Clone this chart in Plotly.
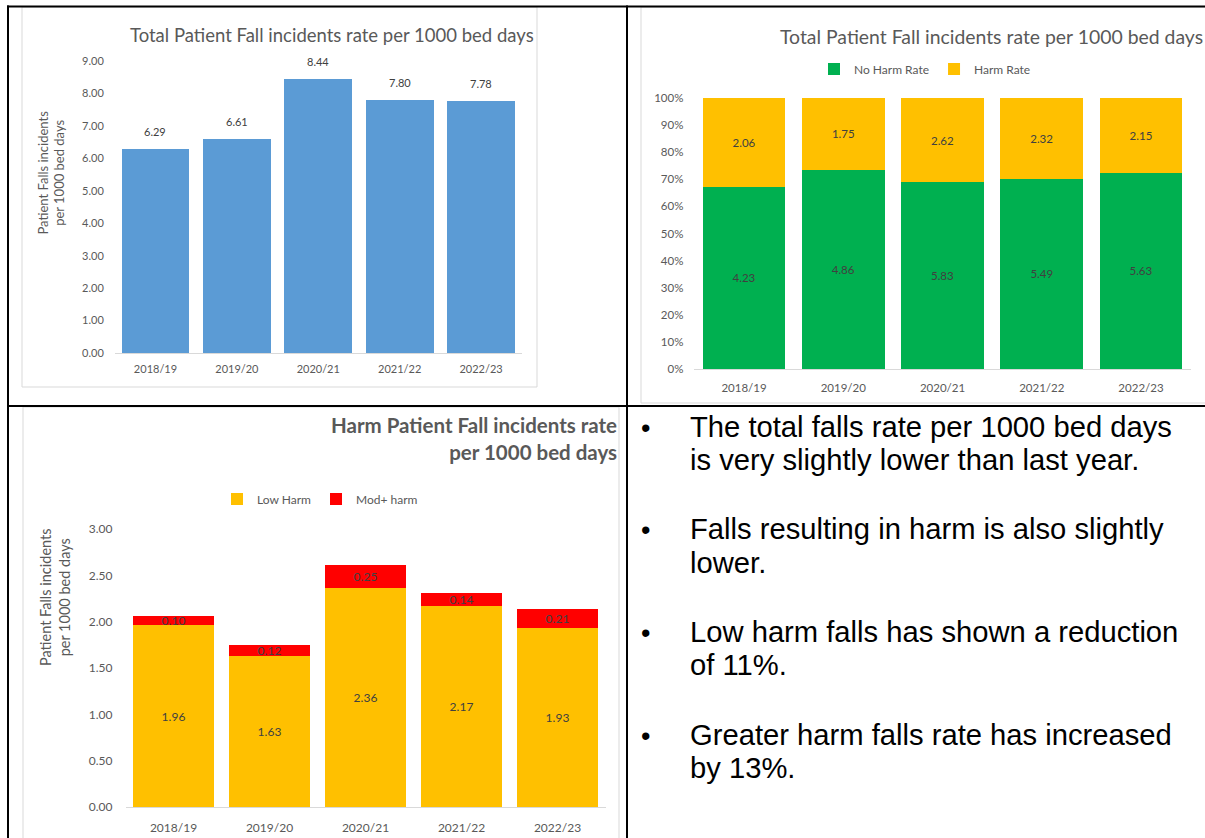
import plotly.graph_objects as go

W, H = 1205, 838


def px(x):
    return x / W


def py(y):
    return 1 - y / H


# ---------------- data ----------------
years = ["2018/19", "2019/20", "2020/21", "2021/22", "2022/23"]
total_rate = [6.29, 6.61, 8.44, 7.80, 7.78]
no_harm_rate = [4.23, 4.86, 5.83, 5.49, 5.63]
harm_rate = [2.06, 1.75, 2.62, 2.32, 2.15]
low_harm = [1.96, 1.63, 2.36, 2.17, 1.93]
mod_harm = [0.10, 0.12, 0.25, 0.14, 0.21]

total_ticks = [0, 1, 2, 3, 4, 5, 6, 7, 8, 9]
pct_ticks = [0, 10, 20, 30, 40, 50, 60, 70, 80, 90, 100]
harm_ticks = [0, 0.5, 1.0, 1.5, 2.0, 2.5, 3.0]

title_total = "Total Patient Fall incidents rate per 1000 bed days"
title_harm = "<b>Harm Patient Fall incidents rate<br>per 1000 bed days</b>"
y_title = "Patient Falls incidents<br>per 1000 bed days"

bullets = [
    ["The total falls rate per 1000 bed days", "is very slightly lower than last year."],
    ["Falls resulting in harm is also slightly", "lower."],
    ["Low harm falls has shown a reduction", "of 11%."],
    ["Greater harm falls rate has increased", "by 13%."],
]

# shares for the 100% stacked chart (built from the values above)
no_harm_share = [n / (n + h) * 100 for n, h in zip(no_harm_rate, harm_rate)]
harm_share = [h / (n + h) * 100 for n, h in zip(no_harm_rate, harm_rate)]

FONT = "Lato, 'Open Sans', sans-serif"
GREY = "#595959"
LBL = "#404040"

fig = go.Figure()

# chart 1
fig.add_trace(go.Bar(x=years, y=total_rate, marker=dict(color="#5B9BD5", line=dict(width=0)),
                     xaxis="x", yaxis="y", showlegend=False, hoverinfo="x+y"))

# chart 2
fig.add_trace(go.Bar(x=years, y=no_harm_share, name="No Harm Rate",
                     text=[f"{v:.2f}" for v in no_harm_rate], textposition="inside",
                     insidetextanchor="middle", textangle=0, constraintext="none",
                     textfont=dict(family=FONT, size=11.5, color=LBL),
                     marker=dict(color="#00B050", line=dict(width=0)),
                     xaxis="x2", yaxis="y2", legend="legend"))
fig.add_trace(go.Bar(x=years, y=harm_share, name="Harm Rate",
                     text=[f"{v:.2f}" for v in harm_rate], textposition="inside",
                     insidetextanchor="middle", textangle=0, constraintext="none",
                     textfont=dict(family=FONT, size=11.5, color=LBL),
                     marker=dict(color="#FFC000", line=dict(width=0)),
                     xaxis="x2", yaxis="y2", legend="legend"))

# chart 3
fig.add_trace(go.Bar(x=years, y=low_harm, name="Low Harm",
                     text=[f"{v:.2f}" for v in low_harm], textposition="inside",
                     insidetextanchor="middle", textangle=0, constraintext="none",
                     textfont=dict(family=FONT, size=12, color=LBL),
                     marker=dict(color="#FFC000", line=dict(width=0)),
                     xaxis="x3", yaxis="y3", legend="legend2"))
fig.add_trace(go.Bar(x=years, y=mod_harm, name="Mod+ harm",
                     text=[f"{v:.2f}" for v in mod_harm], textposition="inside",
                     insidetextanchor="middle", textangle=0, constraintext="none",
                     textfont=dict(family=FONT, size=12, color=LBL),
                     marker=dict(color="#FF0000", line=dict(width=0)),
                     xaxis="x3", yaxis="y3", legend="legend2"))

xcommon = dict(showline=True, linecolor="#D9D9D9", linewidth=1, ticks="", showgrid=False,
               zeroline=False, fixedrange=True, automargin=False)
ycommon = dict(showline=False, ticks="", showgrid=False, zeroline=False, fixedrange=True,
               automargin=False)

annotations = []
# data labels chart 1
for yr, v in zip(years, total_rate):
    annotations.append(dict(x=yr, y=v, xref="x", yref="y", text=f"{v:.2f}", showarrow=False,
                            yanchor="bottom", yshift=9, font=dict(family=FONT, size=11, color=LBL)))

# titles
annotations += [
    dict(x=px(331.5), y=py(35), xref="paper", yref="paper", text=title_total, showarrow=False,
         xanchor="center", yanchor="middle", font=dict(family=FONT, size=18.5, color=GREY)),
    dict(x=px(991), y=py(37), xref="paper", yref="paper", text=title_total, showarrow=False,
         xanchor="center", yanchor="middle", font=dict(family=FONT, size=19.4, color=GREY)),
    dict(x=px(619), y=py(438.5), xref="paper", yref="paper", text=title_harm, showarrow=False,
         xanchor="right", yanchor="middle", align="right", font=dict(family=FONT, size=20.5, color=GREY)),
    dict(x=px(50.5), y=py(172), xref="paper", yref="paper", text=y_title, showarrow=False,
         textangle=-90, xanchor="center", yanchor="middle", font=dict(family=FONT, size=13, color=GREY)),
    dict(x=px(55), y=py(597), xref="paper", yref="paper", text=y_title, showarrow=False,
         textangle=-90, xanchor="center", yanchor="middle", font=dict(family=FONT, size=14.5, color=GREY)),
]

# bullet text panel
line_y = [[427, 460], [529, 563], [632, 665], [735, 768]]
TFONT = "Arial, 'Liberation Sans', sans-serif"
for lines, ys in zip(bullets, line_y):
    annotations.append(dict(x=px(645), y=py(ys[0] + 1), xref="paper", yref="paper", text="•",
                            showarrow=False, xanchor="center", yanchor="middle",
                            font=dict(family=TFONT, size=27, color="#000000")))
    for t, yy in zip(lines, ys):
        annotations.append(dict(x=px(688), y=py(yy), xref="paper", yref="paper", text=t,
                                showarrow=False, xanchor="left", yanchor="middle",
                                font=dict(family=TFONT, size=29.2, color="#000000")))

shapes = []
# chart boxes
box = dict(type="rect", xref="paper", yref="paper", line=dict(color="#D9D9D9", width=1),
           fillcolor="rgba(0,0,0,0)", layer="below")
shapes.append(dict(box, x0=px(22), x1=px(537), y0=py(7), y1=py(387)))
shapes.append(dict(box, x0=px(641), x1=px(1215), y0=py(7), y1=py(403)))
shapes.append(dict(box, x0=px(23), x1=px(619), y0=py(407), y1=py(850)))
# table borders
bl = dict(type="line", xref="paper", yref="paper", line=dict(color="#000000", width=2), layer="above")
shapes.append(dict(bl, x0=px(7), x1=px(1210), y0=py(6.5), y1=py(6.5)))
shapes.append(dict(bl, x0=px(7), x1=px(1210), y0=py(406), y1=py(406)))
shapes.append(dict(bl, x0=px(8), x1=px(8), y0=py(5.5), y1=py(845)))
shapes.append(dict(bl, x0=px(627), x1=px(627), y0=py(5.5), y1=py(845)))

legend_common = dict(orientation="h", xanchor="center", yanchor="middle", bgcolor="rgba(0,0,0,0)",
                     traceorder="normal", itemclick=False, itemdoubleclick=False,
                     font=dict(family=FONT, size=12, color=GREY))

fig.update_layout(
    width=W, height=H, autosize=False,
    margin=dict(l=0, r=0, t=0, b=0, pad=0, autoexpand=False),
    paper_bgcolor="white", plot_bgcolor="white",
    barmode="stack", bargap=0.166,
    font=dict(family=FONT, color=GREY),
    xaxis=dict(xcommon, domain=[px(114.8), px(521.7)], anchor="y",
               tickfont=dict(size=11, color=GREY), ticklabelstandoff=6),
    yaxis=dict(ycommon, domain=[py(353), py(61)], anchor="x", range=[0, 9],
               tickmode="array", tickvals=total_ticks, ticktext=[f"{v:.2f}" for v in total_ticks],
               tickfont=dict(size=11, color=GREY), ticklabelstandoff=10),
    xaxis2=dict(xcommon, domain=[px(694.4), px(1190.6)], anchor="y2",
                tickfont=dict(size=11.5, color=GREY), ticklabelstandoff=8),
    yaxis2=dict(ycommon, domain=[py(369), py(98)], anchor="x2", range=[0, 100],
                tickmode="array", tickvals=pct_ticks, ticktext=[f"{v}%" for v in pct_ticks],
                tickfont=dict(size=11.5, color=GREY), ticklabelstandoff=10),
    xaxis3=dict(xcommon, domain=[px(125.5), px(605.5)], anchor="y3",
                tickfont=dict(size=12, color=GREY), ticklabelstandoff=10),
    yaxis3=dict(ycommon, domain=[py(807), py(529)], anchor="x3", range=[0, 3],
                tickmode="array", tickvals=harm_ticks, ticktext=[f"{v:.2f}" for v in harm_ticks],
                tickfont=dict(size=12, color=GREY), ticklabelstandoff=12),
    legend=dict(legend_common, x=px(925), y=py(69)),
    legend2=dict(legend_common, x=px(320), y=py(499)),
    annotations=annotations,
    shapes=shapes,
)

fig.write_html("out.html", config={"displayModeBar": False},
               post_script="document.body.style.margin='0';document.body.style.overflow='hidden';")
